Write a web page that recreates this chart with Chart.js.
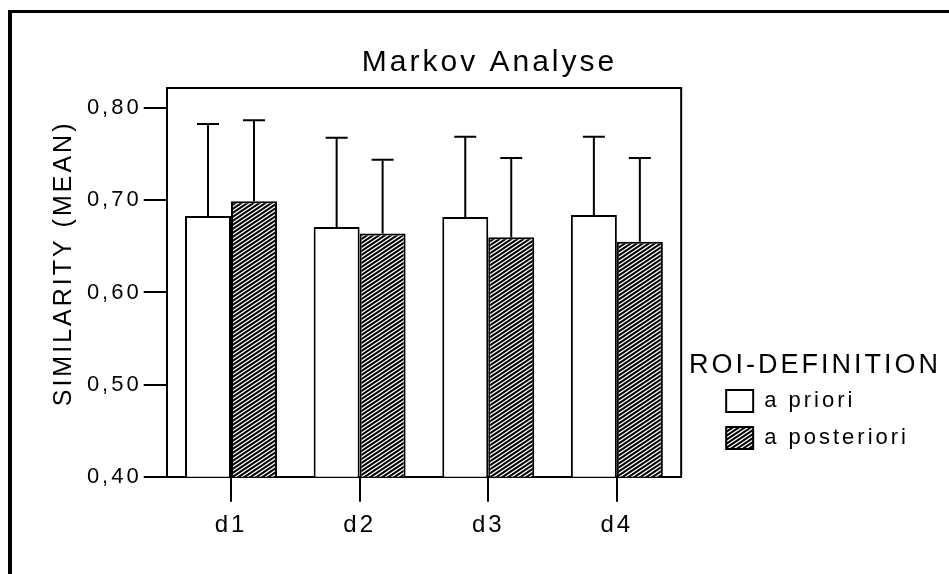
<!DOCTYPE html>
<html>
<head>
<meta charset="utf-8">
<title>Markov Analyse</title>
<script src="https://cdn.jsdelivr.net/npm/chart.js@4.4.1/dist/chart.umd.min.js"></script>
<style>
  html, body { margin: 0; padding: 0; background: #fff; }
  canvas { display: block; }
</style>
</head>
<body>
<canvas id="barChart" width="949" height="574"></canvas>
<script>
// Values
const categories = ['d1', 'd2', 'd3', 'd4'];
const aprioriMean = [0.683, 0.671, 0.682, 0.684];
const aprioriSD = [0.100, 0.097, 0.087, 0.085];
const aposterioriMean = [0.699, 0.664, 0.660, 0.655];
const aposterioriSD = [0.088, 0.080, 0.086, 0.091];
const yTicks = [0.4, 0.5, 0.6, 0.7, 0.8];

Chart.defaults.font.family = "'Liberation Sans', Arial, sans-serif";
Chart.defaults.color = '#000';

// Diagonal hatch used for the "a posteriori" bars
function makeHatch() {
    const tile = document.createElement('canvas');
    tile.width = 6;
    tile.height = 4;
    const g = tile.getContext('2d');
    g.fillStyle = '#fff';
    g.fillRect(0, 0, 6, 4);
    g.strokeStyle = '#000';
    g.lineWidth = 2;
    g.beginPath();
    for (let k = 0; k <= 2; k++) {
        g.moveTo(-3, 4 * k + 2);
        g.lineTo(9, 4 * k - 6);
    }
    g.stroke();
    return g.createPattern(tile, 'repeat');
}
const hatch = makeHatch();

// Old SPSS style text is spaced out
const spacing = {
    id: 'spacing',
    beforeUpdate(chart) { chart.ctx.letterSpacing = '3px'; },
    beforeDraw(chart) { chart.ctx.letterSpacing = '3px'; }
};

// Page frame and the box round the plot
const frame = {
    id: 'frame',
    beforeDraw(chart) {
        const ctx = chart.ctx;
        ctx.save();
        ctx.fillStyle = '#fff';
        ctx.fillRect(0, 0, chart.width, chart.height);
        ctx.fillStyle = '#000';
        ctx.fillRect(8, 10, 4, chart.height);
        ctx.fillRect(8, 10, chart.width, 3);
        ctx.restore();
    },
    beforeDatasetsDraw(chart) {
        const a = chart.chartArea;
        const ctx = chart.ctx;
        ctx.save();
        ctx.strokeStyle = '#000';
        ctx.lineWidth = 2;
        ctx.beginPath();
        ctx.moveTo(a.left, a.top);
        ctx.lineTo(a.right, a.top);
        ctx.lineTo(a.right, a.bottom);
        ctx.stroke();
        ctx.restore();
    }
};

// Move title and legend a bit to the right, as in the original
const nudge = {
    id: 'nudge',
    afterLayout(chart) {
        const legend = chart.legend;
        legend.left += 30;
        legend.right += 30;
        // the legend title is wider than the items, so don't clip it
        legend.draw = function () { this._draw(); };
        chart.titleBlock.left += 45;
        chart.titleBlock.right += 45;
    }
};

// One sided error bars (mean + SD)
const errorBars = {
    id: 'errorBars',
    afterDatasetsDraw(chart) {
        const ctx = chart.ctx;
        const y = chart.scales.y;
        const sds = [aprioriSD, aposterioriSD];
        ctx.save();
        ctx.strokeStyle = '#000';
        ctx.lineWidth = 2;
        chart.data.datasets.forEach((ds, i) => {
            chart.getDatasetMeta(i).data.forEach((bar, j) => {
                const top = y.getPixelForValue(ds.data[j] + sds[i][j]);
                ctx.beginPath();
                ctx.moveTo(bar.x, bar.y);
                ctx.lineTo(bar.x, top);
                ctx.moveTo(bar.x - 11, top);
                ctx.lineTo(bar.x + 11, top);
                ctx.stroke();
            });
        });
        ctx.restore();
    }
};

const ctx = document.getElementById('barChart').getContext('2d');

new Chart(ctx, {
    type: 'bar',
    data: {
        labels: categories,
        datasets: [{
            label: 'a priori',
            data: aprioriMean,
            backgroundColor: '#fff',
            borderColor: '#000',
            borderWidth: 2
        }, {
            label: 'a posteriori',
            data: aposterioriMean,
            backgroundColor: hatch,
            borderColor: '#000',
            borderWidth: 2
        }]
    },
    options: {
        responsive: false,
        animation: false,
        events: [],
        layout: { padding: { left: 0, right: 60, top: 0, bottom: 0 } },
        datasets: {
            bar: { barPercentage: 1, categoryPercentage: 0.715 }
        },
        scales: {
            x: {
                afterFit: s => { s.height = 97.3; },
                border: { color: '#000', width: 2 },
                grid: { offset: false, drawOnChartArea: false, color: '#000', lineWidth: 2, tickLength: 25 },
                ticks: { color: '#000', font: { size: 24 }, padding: 9 }
            },
            y: {
                min: 0.4,
                max: 0.822,
                afterBuildTicks: s => { s.ticks = yTicks.map(v => ({ value: v })); },
                afterFit: s => { s.width = 166.7; },
                border: { color: '#000', width: 2 },
                grid: { drawOnChartArea: false, color: '#000', lineWidth: 2, tickLength: 23 },
                ticks: {
                    color: '#000',
                    font: { size: 22 },
                    padding: 2,
                    callback: v => v.toFixed(2).replace('.', ',')
                },
                title: {
                    display: true,
                    // leading space lifts the centred label a little, as in the original
                    text: '\u2003\u00A0SIMILARITY (MEAN)',
                    color: '#000',
                    font: { size: 25 },
                    padding: { top: 49, bottom: 0 }
                }
            }
        },
        plugins: {
            title: {
                display: true,
                text: 'Markov Analyse',
                color: '#000',
                font: { size: 30, weight: 'normal' },
                padding: { top: 45, bottom: 7 }
            },
            legend: {
                position: 'right',
                align: 'start',
                title: {
                    display: true,
                    text: 'ROI-DEFINITION',
                    color: '#000',
                    position: 'center',
                    font: { size: 27, lineHeight: 0.85 },
                    padding: { top: 352, bottom: 0 }
                },
                labels: {
                    color: '#000',
                    font: { size: 22 },
                    boxWidth: 27,
                    boxHeight: 22,
                    padding: 15,
                    generateLabels: chart => Chart.defaults.plugins.legend.labels.generateLabels(chart)
                        .map(item => ({ ...item, lineWidth: 2 }))
                }
            },
            tooltip: { enabled: false }
        }
    },
    plugins: [spacing, frame, nudge, errorBars]
});
</script>
</body>
</html>
